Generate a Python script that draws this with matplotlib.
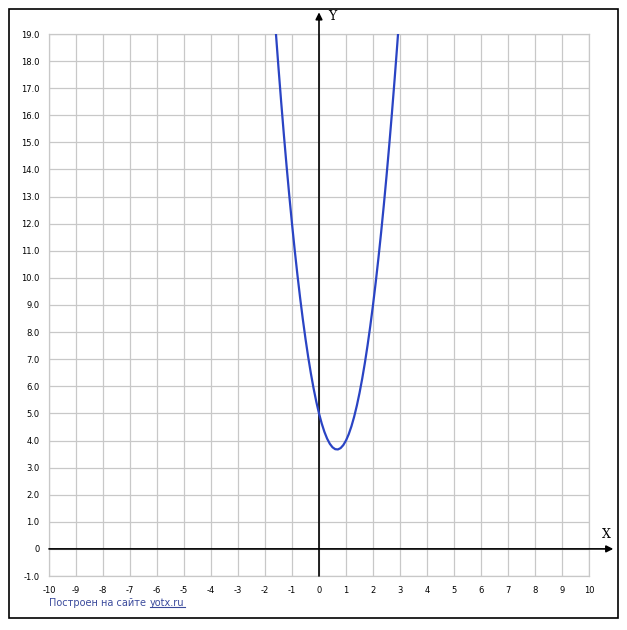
import matplotlib
matplotlib.use("Agg")
import matplotlib.pyplot as plt
from matplotlib.patches import Rectangle

# точки графика
xs = [-1.7, -1.6, -1.5, -1.4, -1.3, -1.2, -1.1, -1.0, -0.9, -0.8, -0.7, -0.6,
      -0.5, -0.4, -0.3, -0.2, -0.1, 0.0, 0.1, 0.2, 0.3, 0.4, 0.5, 0.6, 0.7,
      0.8, 0.9, 1.0, 1.1, 1.2, 1.3, 1.4, 1.5, 1.6, 1.7, 1.8, 1.9, 2.0, 2.1,
      2.2, 2.3, 2.4, 2.5, 2.6, 2.7, 2.8, 2.9, 3.0]
ys = [20.47, 19.08, 17.75, 16.48, 15.27, 14.12, 13.03, 12.0, 11.03, 10.12,
      9.27, 8.48, 7.75, 7.08, 6.47, 5.92, 5.43, 5.0, 4.63, 4.32, 4.07, 3.88,
      3.75, 3.68, 3.67, 3.72, 3.83, 4.0, 4.23, 4.52, 4.87, 5.28, 5.75, 6.28,
      6.87, 7.52, 8.23, 9.0, 9.83, 10.72, 11.67, 12.68, 13.75, 14.88, 16.07,
      17.32, 18.63, 20.0]

xticks = list(range(-10, 11))
yticks = list(range(-1, 20))
xlabels = [str(v) for v in xticks]
ylabels = ["0" if v == 0 else "%.1f" % v for v in yticks]

W, H = 627, 630
fig = plt.figure(figsize=(W / 100, H / 100), dpi=100)
fig.patch.set_facecolor("white")

# рамка вокруг всего
fig.patches.append(Rectangle((9 / W, 1 - 618 / H), 609 / W, 609 / H,
                             transform=fig.transFigure, fill=False,
                             edgecolor="black", linewidth=1.2))

ax = fig.add_axes([49 / W, 1 - 576 / H, 540 / W, 542 / H])
ax.set_xlim(-10, 10)
ax.set_ylim(-1, 19)
ax.set_xticks(xticks)
ax.set_yticks(yticks)
ax.set_xticklabels(xlabels)
ax.set_yticklabels(ylabels)
ax.grid(True, color="#c8c8c8", linewidth=0.9)
ax.set_axisbelow(True)
ax.tick_params(length=0, labelsize=6, pad=7)
for s in ax.spines.values():
    s.set_color("#c8c8c8")
    s.set_linewidth(0.9)

# оси со стрелками
ax.annotate("", xy=(10.9, 0), xytext=(-10, 0),
            arrowprops=dict(arrowstyle="-|>", color="black", lw=1.2,
                            mutation_scale=10, shrinkA=0, shrinkB=0),
            annotation_clip=False)
ax.annotate("", xy=(0, 19.8), xytext=(0, -1),
            arrowprops=dict(arrowstyle="-|>", color="black", lw=1.2,
                            mutation_scale=10, shrinkA=0, shrinkB=0),
            annotation_clip=False)
ax.text(10.65, 0.3, "X", fontsize=9, family="DejaVu Serif", ha="center",
        va="bottom", clip_on=False)
ax.text(0.5, 19.65, "Y", fontsize=9, family="DejaVu Serif", ha="center",
        va="center", clip_on=False)

ax.plot(xs, ys, color="#2a44c4", linewidth=1.6, zorder=3)

# подпись внизу
t1 = fig.text(49 / W, 1 - 603 / H, "Построен на сайте", fontsize=7,
              color="#3a4a9c", va="center", ha="left")
fig.canvas.draw()
bb = t1.get_window_extent()
x2 = bb.x1 + 4
t2 = fig.text(x2 / W, 1 - 603 / H, "yotx.ru", fontsize=7,
              color="#3a4a9c", va="center", ha="left")
fig.canvas.draw()
bb2 = t2.get_window_extent()
fig.add_artist(plt.Line2D([bb2.x0 / W, bb2.x1 / W],
                          [(bb2.y0 + 1) / H, (bb2.y0 + 1) / H],
                          color="#3a4a9c", linewidth=0.8,
                          transform=fig.transFigure))

fig.savefig("out.png", dpi=100)
